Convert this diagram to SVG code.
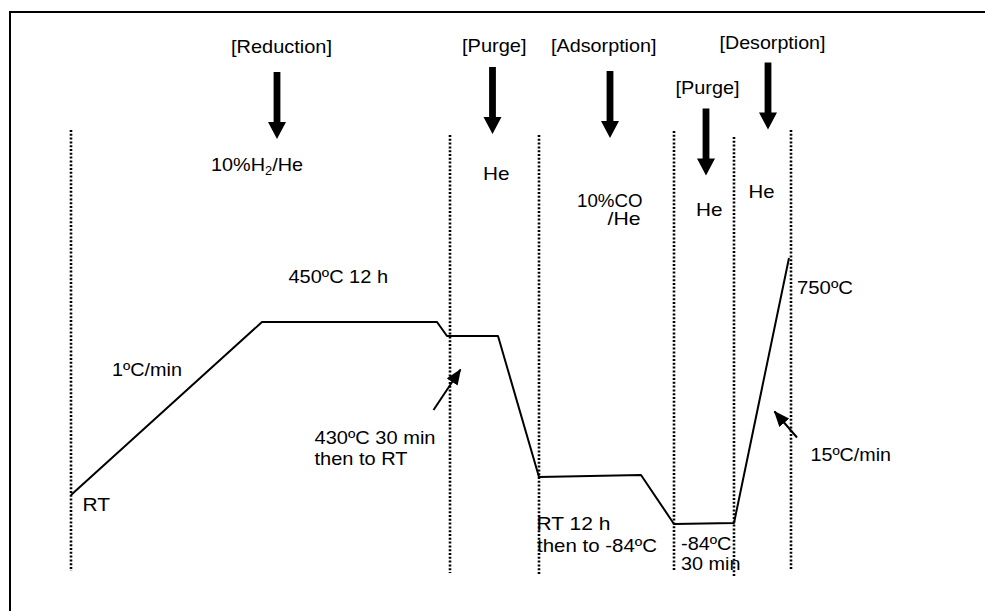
<svg xmlns="http://www.w3.org/2000/svg" width="985" height="611" viewBox="0 0 985 611">
<style>
text { font-family: "Liberation Sans", Arial, sans-serif; font-size: 18.5px; fill: #000; }
.dot { stroke: #000; stroke-width: 2.6; stroke-dasharray: 2 1.8; fill: none; }
.frame { stroke: #000; stroke-width: 2; fill: none; }
.prof { stroke: #000; stroke-width: 2; fill: none; stroke-linejoin: round; }
.big { fill: #000; }
.thin { stroke: #000; stroke-width: 2; fill: none; }
</style>
<defs>
<marker id="ah" viewBox="0 0 16 13" refX="15" refY="6.5" markerWidth="16" markerHeight="13" markerUnits="userSpaceOnUse" orient="auto">
<path d="M0,0 L16,6.5 L0,13 z" fill="#000"/>
</marker>
<path id="bigArrow" d="M-3.4,0 L3.4,0 L3.4,50 L9,50 L0,67 L-9,50 L-3.4,50 z"/>
</defs>
<rect width="985" height="611" fill="#fff"/>
<g id="frame">
<path class="frame" d="M10,611 L10,12 L985,12"/>
</g>
<g id="dividers">
<line class="dot" x1="71" y1="130" x2="71" y2="571"/>
<line class="dot" x1="450" y1="135" x2="450" y2="573"/>
<line class="dot" x1="539" y1="135" x2="539" y2="575"/>
<line class="dot" x1="674" y1="131" x2="674" y2="570"/>
<line class="dot" x1="734" y1="137" x2="734" y2="577"/>
<line class="dot" x1="791" y1="130" x2="791" y2="569"/>
</g>
<g id="profile">
<polyline class="prof" points="71,495 262,322 437,322 447,336 498,336 539,477 641,475 674,524 734,523 789,258"/>
</g>
<g id="connectors">
<use href="#bigArrow" class="big" x="277" y="72"/>
<use href="#bigArrow" class="big" x="492.5" y="67"/>
<use href="#bigArrow" class="big" x="610" y="71"/>
<use href="#bigArrow" class="big" x="706" y="108.5"/>
<use href="#bigArrow" class="big" x="768" y="62.5"/>
<line class="thin" x1="433.5" y1="410" x2="460.5" y2="369.5" marker-end="url(#ah)"/>
<line class="thin" x1="797" y1="437.5" x2="774.5" y2="411.5" marker-end="url(#ah)"/>
</g>
<g id="step-reduction">
<text x="231" y="53" textLength="101" lengthAdjust="spacingAndGlyphs">[Reduction]</text>
<text x="211" y="171" textLength="92" lengthAdjust="spacingAndGlyphs">10%H<tspan font-size="12" dy="4">2</tspan><tspan dy="-4">/He</tspan></text>
</g>
<g id="step-purge1">
<text x="462" y="52" textLength="64.5" lengthAdjust="spacingAndGlyphs">[Purge]</text>
<text x="483" y="179.5" textLength="26.5" lengthAdjust="spacingAndGlyphs">He</text>
</g>
<g id="step-adsorption">
<text x="551" y="52" textLength="105.5" lengthAdjust="spacingAndGlyphs">[Adsorption]</text>
<text x="577" y="207" textLength="65.5" lengthAdjust="spacingAndGlyphs">10%CO</text>
<text x="607.5" y="225" textLength="33" lengthAdjust="spacingAndGlyphs">/He</text>
</g>
<g id="step-purge2">
<text x="675.5" y="94" textLength="64" lengthAdjust="spacingAndGlyphs">[Purge]</text>
<text x="696" y="216" textLength="26.5" lengthAdjust="spacingAndGlyphs">He</text>
</g>
<g id="step-desorption">
<text x="719.5" y="48.5" textLength="106" lengthAdjust="spacingAndGlyphs">[Desorption]</text>
<text x="748.5" y="197.5" textLength="26" lengthAdjust="spacingAndGlyphs">He</text>
</g>
<g id="annotations">
<text x="797" y="294" textLength="56" lengthAdjust="spacingAndGlyphs">750ºC</text>
<text x="288.5" y="283" textLength="99.5" lengthAdjust="spacingAndGlyphs">450ºC 12 h</text>
<text x="112" y="376" textLength="70" lengthAdjust="spacingAndGlyphs">1ºC/min</text>
<text x="82.5" y="511" textLength="27.5" lengthAdjust="spacingAndGlyphs">RT</text>
<text x="314.5" y="443.5" textLength="121" lengthAdjust="spacingAndGlyphs">430ºC 30 min</text>
<text x="314.5" y="465" textLength="93" lengthAdjust="spacingAndGlyphs">then to RT</text>
<text x="536.5" y="529.5" textLength="74" lengthAdjust="spacingAndGlyphs">RT 12 h</text>
<text x="537" y="552" textLength="120" lengthAdjust="spacingAndGlyphs">then to -84ºC</text>
<text x="681" y="550" textLength="50.5" lengthAdjust="spacingAndGlyphs">-84ºC</text>
<text x="681" y="570" textLength="59.5" lengthAdjust="spacingAndGlyphs">30 min</text>
<text x="810.5" y="461" textLength="80.5" lengthAdjust="spacingAndGlyphs">15ºC/min</text>
</g>
</svg>
